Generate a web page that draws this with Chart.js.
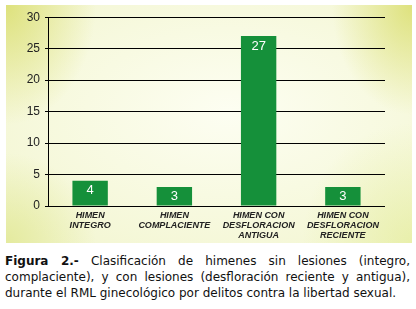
<!DOCTYPE html>
<html>
<head>
<meta charset="utf-8">
<script src="https://cdn.jsdelivr.net/npm/chart.js@4.4.1/dist/chart.umd.min.js"></script>
<style>
    html, body { margin: 0; padding: 0; background: #fff; }
    body { width: 416px; height: 309px; position: relative; overflow: hidden; }
    .panel {
        position: absolute; left: 6px; top: 5px; width: 406px; height: 238px;
        background:
            radial-gradient(ellipse 90px 120px at 0% 0%, rgba(218,222,110,0.85), rgba(218,222,110,0) 100%),
            radial-gradient(ellipse 80px 110px at 100% 0%, rgba(218,222,110,0.85), rgba(218,222,110,0) 100%),
            radial-gradient(ellipse 90px 90px at 0% 100%, rgba(220,228,130,0.65), rgba(220,228,130,0) 100%),
            radial-gradient(ellipse 110px 120px at 100% 100%, rgba(224,234,140,0.55), rgba(224,234,140,0) 100%),
            radial-gradient(ellipse 70% 70% at 55% 45%, #fdfef2, #f3f6d2);
    }
    .chart-box { position: absolute; left: 0; top: 0; width: 406px; height: 238px; }
    .caption {
        position: absolute; left: 5px; top: 253px; width: 405px;
        font-family: 'DejaVu Sans', sans-serif;
        font-size: 12px; line-height: 16px; color: #111;
    }
    .caption div.j { text-align: justify; text-align-last: justify; }
    .caption b { font-weight: bold; }
</style>
</head>
<body>
<div class="panel">
    <div class="chart-box"><canvas id="chartHimen"></canvas></div>
</div>
<div class="caption">
    <div class="j"><b>Figura 2.-</b> Clasificación de himenes sin lesiones (integro,</div>
    <div class="j">complaciente), y con lesiones (desfloración reciente y antigua),</div>
    <div>durante el RML ginecológico por delitos contra la libertad sexual.</div>
</div>
<script>
// ── Datos ──
const categorias = [
    ['HIMEN', 'INTEGRO'],
    ['HIMEN', 'COMPLACIENTE'],
    ['HIMEN CON', 'DESFLORACION', 'ANTIGUA'],
    ['HIMEN CON', 'DESFLORACION', 'RECIENTE']
];
const casos = [4, 3, 27, 3];
const ticksY = [0, 5, 10, 15, 20, 25, 30];

// etiquetas blancas dentro de la barra
const valoresEnBarra = {
    id: 'valoresEnBarra',
    afterDatasetsDraw(chart) {
        const ctx = chart.ctx;
        const meta = chart.getDatasetMeta(0);
        ctx.save();
        ctx.fillStyle = '#ffffff';
        ctx.font = '13px "Liberation Sans", Arial, sans-serif';
        ctx.textAlign = 'center';
        ctx.textBaseline = 'middle';
        meta.data.forEach((bar, i) => {
            const y = Math.min(bar.y + 10, bar.base - 9);
            ctx.fillText(String(casos[i]), bar.x, y);
        });
        ctx.restore();
    }
};

new Chart(document.getElementById('chartHimen'), {
    type: 'bar',
    data: {
        labels: categorias,
        datasets: [{
            data: casos,
            backgroundColor: '#15903a',
            barPercentage: 0.42,
            categoryPercentage: 1
        }]
    },
    options: {
        responsive: true, maintainAspectRatio: false,
        animation: false,
        layout: { padding: { left: 0, right: 27, top: 11, bottom: 0 } },
        plugins: {
            legend: { display: false },
            tooltip: { enabled: false }
        },
        scales: {
            x: {
                grid: { display: false, drawTicks: false },
                border: { display: false },
                ticks: {
                    color: '#222',
                    padding: 5,
                    maxRotation: 0,
                    autoSkip: false,
                    font: { family: '"Liberation Sans", Arial, sans-serif', size: 9, style: 'italic', weight: 'bold', lineHeight: 1.1 }
                },
                afterFit: s => { s.height = 37; }
            },
            y: {
                min: 0, max: 30,
                afterBuildTicks: s => { s.ticks = ticksY.map(v => ({ value: v })); },
                grid: { color: '#000', lineWidth: 1, tickLength: 3 },
                border: { color: '#000', width: 1 },
                ticks: {
                    color: '#222',
                    padding: 5,
                    font: { family: '"Liberation Sans", Arial, sans-serif', size: 12 }
                },
                afterFit: s => { s.width = 42; }
            }
        }
    },
    plugins: [valoresEnBarra]
});
</script>
</body>
</html>
